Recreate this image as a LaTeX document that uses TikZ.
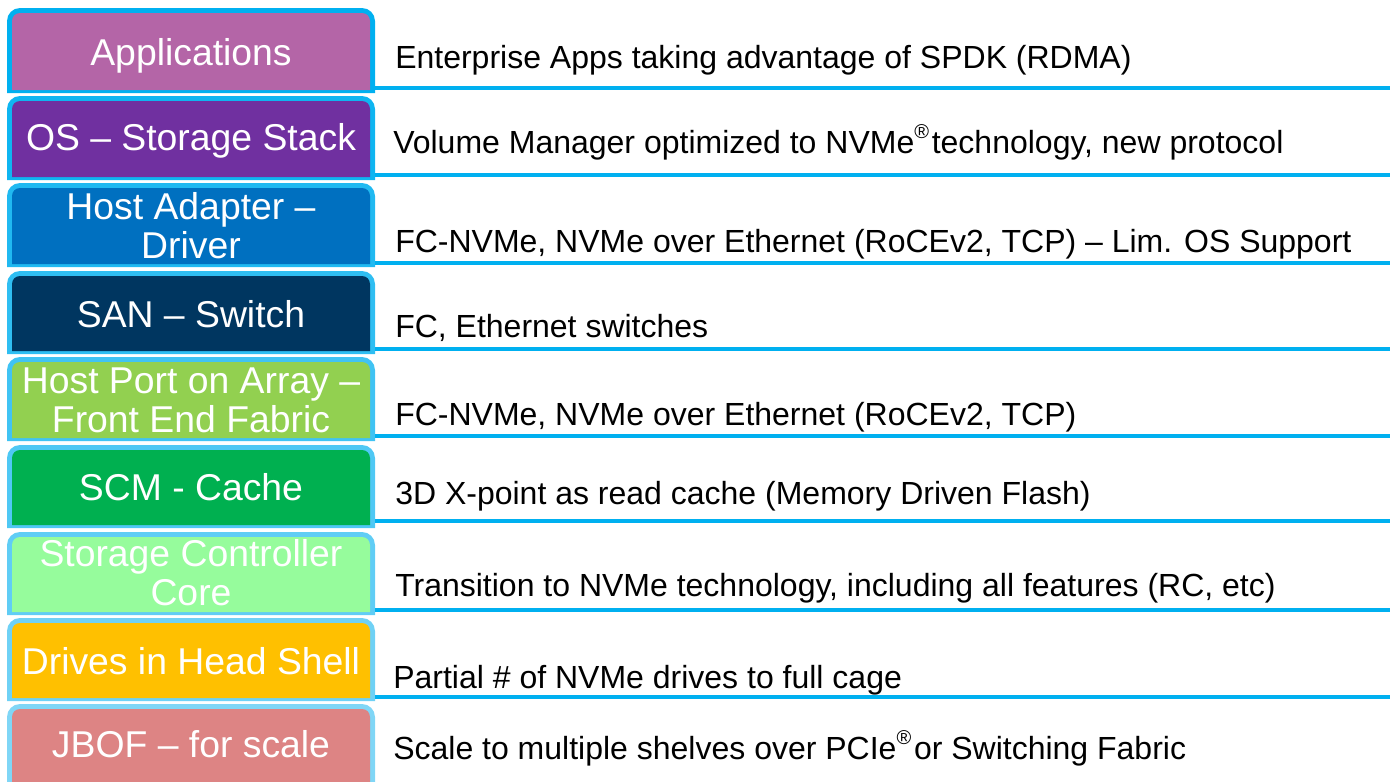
\documentclass[tikz,border=0pt]{standalone}
\usepackage{fontspec}
\setmainfont{Liberation Sans}
\definecolor{linkblue}{HTML}{00B0F0}
\definecolor{bdtop}{HTML}{00B0F0}
\definecolor{bdbot}{HTML}{80D6F6}
\colorlet{bd1}{bdtop}
\colorlet{bd2}{bdbot!12!bdtop}
\colorlet{bd3}{bdbot!25!bdtop}
\colorlet{bd4}{bdbot!37!bdtop}
\colorlet{bd5}{bdbot!50!bdtop}
\colorlet{bd6}{bdbot!62!bdtop}
\colorlet{bd7}{bdbot!75!bdtop}
\colorlet{bd8}{bdbot!87!bdtop}
\colorlet{bd9}{bdbot}
\definecolor{fApps}{HTML}{B465A7}
\definecolor{fOS}{HTML}{7030A0}
\definecolor{fHost}{HTML}{0070C0}
\definecolor{fSAN}{HTML}{003660}
\definecolor{fPort}{HTML}{92D050}
\definecolor{fSCM}{HTML}{00B050}
\definecolor{fCtrl}{HTML}{96FC9C}
\definecolor{fDrive}{HTML}{FFC000}
\definecolor{fJBOF}{HTML}{DD8484}
% one layer of the stack: top, bottom, fill colour, border colour
\newcommand\stackrow[4]{%
  \fill[#4, rounded corners=9.75pt] (7,#2) -- (7,#1) -- (375,#1) -- (375,#2);
  \fill[#3, rounded corners=6pt] (12,#2-3) -- (12,#1+5) -- (370,#1+5) -- (370,#2-3);}
\newcommand\regmark{\raisebox{0.45em}{\fontsize{15}{15}\selectfont\textregistered}\hspace{2pt}}
\begin{document}
\begin{tikzpicture}[x=0.75pt,y=-0.75pt,
  lbl/.style={text=white, font=\fontsize{28}{29.25}\selectfont, align=center, inner sep=0pt, anchor=base},
  desc/.style={text=black, font=\fontsize{24}{28}\selectfont, inner sep=0pt, anchor=base west},
  link/.style={draw=linkblue, line width=2.6pt}]
\useasboundingbox (0,0) rectangle (1390,782);

% layer boxes
\stackrow{8}{93}{fApps}{bd1}
\stackrow{96}{180}{fOS}{bd2}
\stackrow{183}{267}{fHost}{bd3}
\stackrow{271}{354}{fSAN}{bd4}
\stackrow{357}{441}{fPort}{bd5}
\stackrow{445}{528}{fSCM}{bd6}
\stackrow{532}{615}{fCtrl}{bd7}
\stackrow{618}{701}{fDrive}{bd8}
\stackrow{704}{795}{fJBOF}{bd9}

% layer names (base anchor sits on the last line)
\node[lbl] (lab1) at (191,65) {Applications};
\node[lbl] (lab2) at (191,150) {OS – Storage Stack};
\node[lbl] (lab3) at (191,258) {Host Adapter –\\Driver};
\node[lbl] (lab4) at (191,327) {SAN – Switch};
\node[lbl] (lab5) at (191,432) {Host Port on Array –\\Front End Fabric};
\node[lbl] (lab6) at (191,500) {SCM - Cache};
\node[lbl] (lab7) at (191,605) {Storage Controller\\Core};
\node[lbl] (lab8) at (191,674) {Drives in Head Shell};
\node[lbl] (lab9) at (191,757) {JBOF – for scale};

% rules under each description
\foreach \i/\y in {1/88,2/175,3/263,4/349,5/436,6/521,7/610,8/697}{
  \coordinate (a\i) at (375,\y);
  \coordinate (z\i) at (1390,\y);
  \draw[link] (a\i) -- (z\i);
}

% descriptions
\node[desc] (d1) at (395,68) {Enterprise Apps taking advantage of SPDK (RDMA)};
\node[desc] (d2) at (393,153) {Volume Manager optimized to NVMe\regmark technology, new protocol};
\node[desc] (d3) at (395,252) {FC-NVMe, NVMe over Ethernet (RoCEv2, TCP) – Lim. OS Support};
\node[desc] (d4) at (395,337) {FC, Ethernet switches};
\node[desc] (d5) at (395,425) {FC-NVMe, NVMe over Ethernet (RoCEv2, TCP)};
\node[desc] (d6) at (395,504) {3D X-point as read cache (Memory Driven Flash)};
\node[desc] (d7) at (395,596) {Transition to NVMe technology, including all features (RC, etc)};
\node[desc] (d8) at (393,688) {Partial \# of NVMe drives to full cage};
\node[desc] (d9) at (393,759) {Scale to multiple shelves over PCIe\regmark or Switching Fabric};
\end{tikzpicture}
\end{document}
